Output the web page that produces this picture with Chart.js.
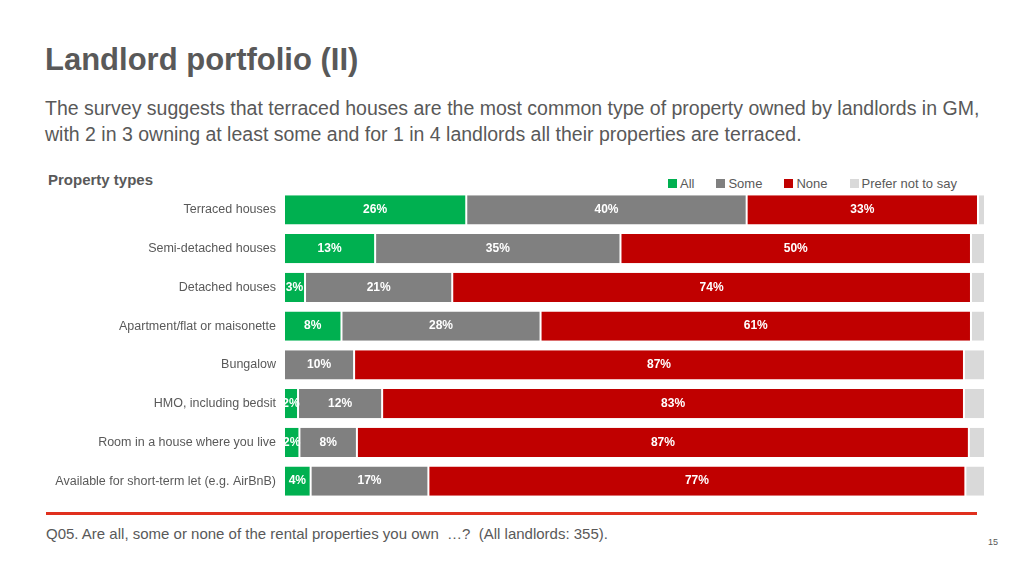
<!DOCTYPE html>
<html><head><meta charset="utf-8">
<script src="https://cdn.jsdelivr.net/npm/chart.js@4"></script>
<style>
body{margin:0;width:1024px;height:575px;position:relative;background:#fff;font-family:"Liberation Sans",Arial,sans-serif;overflow:hidden}
.t{position:absolute;color:#595959}
#wrap{position:absolute;left:0;top:183px;width:1024px;height:325px}
.lg{position:absolute;top:176px;font-size:13px;color:#595959;display:flex;gap:0}
.lg span{display:inline-flex;align-items:center;margin-right:22px}
.lg i{display:inline-block;width:9px;height:9px;margin-right:3px}
</style></head><body>
<div class="t" style="left:45px;top:42px;font-size:31px;font-weight:bold">Landlord portfolio (II)</div>
<div class="t" style="left:45px;top:95px;font-size:19.5px;line-height:26px">The survey suggests that terraced houses are the most common type of property owned by landlords in GM,<br>with 2 in 3 owning at least some and for 1 in 4 landlords all their properties are terraced.</div>
<div class="t" style="left:48px;top:171px;font-size:15px;font-weight:bold">Property types</div>
<div class="lg" style="left:668px">
<span><i style="background:#00b050"></i>All</span><span><i style="background:#808080"></i>Some</span><span><i style="background:#c00000"></i>None</span><span><i style="background:#d9d9d9"></i>Prefer not to say</span></div>
<div id="wrap"><canvas id="c"></canvas></div>
<div style="position:absolute;left:46px;top:512px;width:931px;height:3px;background:#e0301e"></div>
<div class="t" style="left:46px;top:525px;font-size:15px">Q05. Are all, some or none of the rental properties you own &nbsp;…? &nbsp;(All landlords: 355).</div>
<div class="t" style="left:988px;top:537px;font-size:9px">15</div>
<script>
const categories=["Terraced houses","Semi-detached houses","Detached houses","Apartment/flat or maisonette","Bungalow","HMO, including bedsit","Room in a house where you live","Available for short-term let (e.g. AirBnB)"];
const allV=[26,13,3,8.2,0,2,2.2,3.8];
const someV=[40,35,21,28.4,10,12,8.2,16.8];
const noneV=[33,50,74,61.4,87,83,87.3,76.6];
const pnsV=[1,2,2,2,3,3,2.3,2.8];
const mk=(l,d,c,lab)=>({label:l,data:d,backgroundColor:c,borderColor:'#fff',borderWidth:{left:1,right:1},borderSkipped:false,barPercentage:0.75,categoryPercentage:1,showLab:lab});
const lbl={id:'lbl',afterDatasetsDraw(ch){const x=ch.ctx;x.save();x.font='bold 12px "Liberation Sans",Arial';x.fillStyle='#fff';x.textAlign='center';x.textBaseline='middle';
ch.data.datasets.forEach((ds,i)=>{if(!ds.showLab)return;ch.getDatasetMeta(i).data.forEach((b,j)=>{const v=ds.data[j];if(!v)return;x.fillText(Math.round(v)+'%',(b.x+b.base)/2,b.y);});});x.restore();}};
new Chart(document.getElementById('c'),{type:'bar',data:{labels:categories,datasets:[mk('All',allV,'#00b050',1),mk('Some',someV,'#808080',1),mk('None',noneV,'#c00000',1),mk('Prefer not to say',pnsV,'#d9d9d9',0)]},
options:{indexAxis:'y',responsive:true,maintainAspectRatio:false,animation:false,layout:{padding:{left:0,right:39,top:0,bottom:0}},
plugins:{legend:{display:false},tooltip:{enabled:false}},
scales:{x:{stacked:true,min:0,max:100,display:false},y:{stacked:true,grid:{display:false},border:{display:false},ticks:{color:'#595959',font:{size:12.5,family:'"Liberation Sans",Arial'},padding:0},afterFit(s){s.width=284;}}}},plugins:[lbl]});
</script></body></html>
